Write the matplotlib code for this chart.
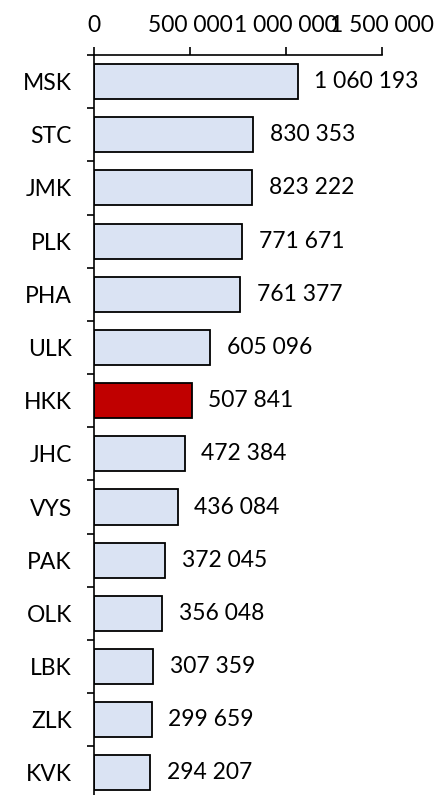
import numpy as np
from matplotlib import pyplot as plt
from matplotlib.ticker import FixedLocator, FuncFormatter

regions = ['MSK', 'STC', 'JMK', 'PLK', 'PHA', 'ULK', 'HKK',
           'JHC', 'VYS', 'PAK', 'OLK', 'LBK', 'ZLK', 'KVK']
values = [1060193, 830353, 823222, 771671, 761377, 605096, 507841,
          472384, 436084, 372045, 356048, 307359, 299659, 294207]
highlight = 'HKK'
x_ticks = [0, 500000, 1000000, 1500000]


def fmt_space(v, _pos=None):
    return f'{int(v):,}'.replace(',', ' ')


plt.rcParams['font.family'] = ['Lato', 'DejaVu Sans']
FS = 16.5

W, H = 441, 795
fig = plt.figure(figsize=(W / 100, H / 100), dpi=100)
# axes placed in pixel terms: x 94..382, y 55..799.5 (clipped at bottom)
ax = fig.add_axes([94 / W, -4.5 / H, 288 / W, 744.5 / H])

y = np.arange(len(regions))
colors = ['#c00000' if r == highlight else '#dae3f3' for r in regions]
ax.barh(y, values, height=0.66, color=colors, edgecolor='black', linewidth=1.3)

for yi, v in zip(y, values):
    ax.annotate(fmt_space(v), (v, yi), xytext=(12, 0), textcoords='offset points',
                va='center', ha='left', fontsize=FS)

ax.set_xlim(0, 1500000)
ax.set_ylim(len(regions) - 0.5, -0.5)

ax.xaxis.tick_top()
ax.set_xticks(x_ticks)
ax.xaxis.set_major_formatter(FuncFormatter(fmt_space))
ax.tick_params(axis='x', direction='out', length=6, width=1.2, pad=8, labelsize=FS)

ax.set_yticks(y)
ax.set_yticklabels(regions)
ax.tick_params(axis='y', which='major', length=0, pad=16, labelsize=FS)
ax.yaxis.set_minor_locator(FixedLocator(np.arange(-0.5, len(regions), 1.0)))
ax.tick_params(axis='y', which='minor', direction='out', length=5, width=1.2)

for side in ['right', 'bottom']:
    ax.spines[side].set_visible(False)
for side in ['top', 'left']:
    ax.spines[side].set_linewidth(1.2)

fig.savefig('out.png', dpi=100)
